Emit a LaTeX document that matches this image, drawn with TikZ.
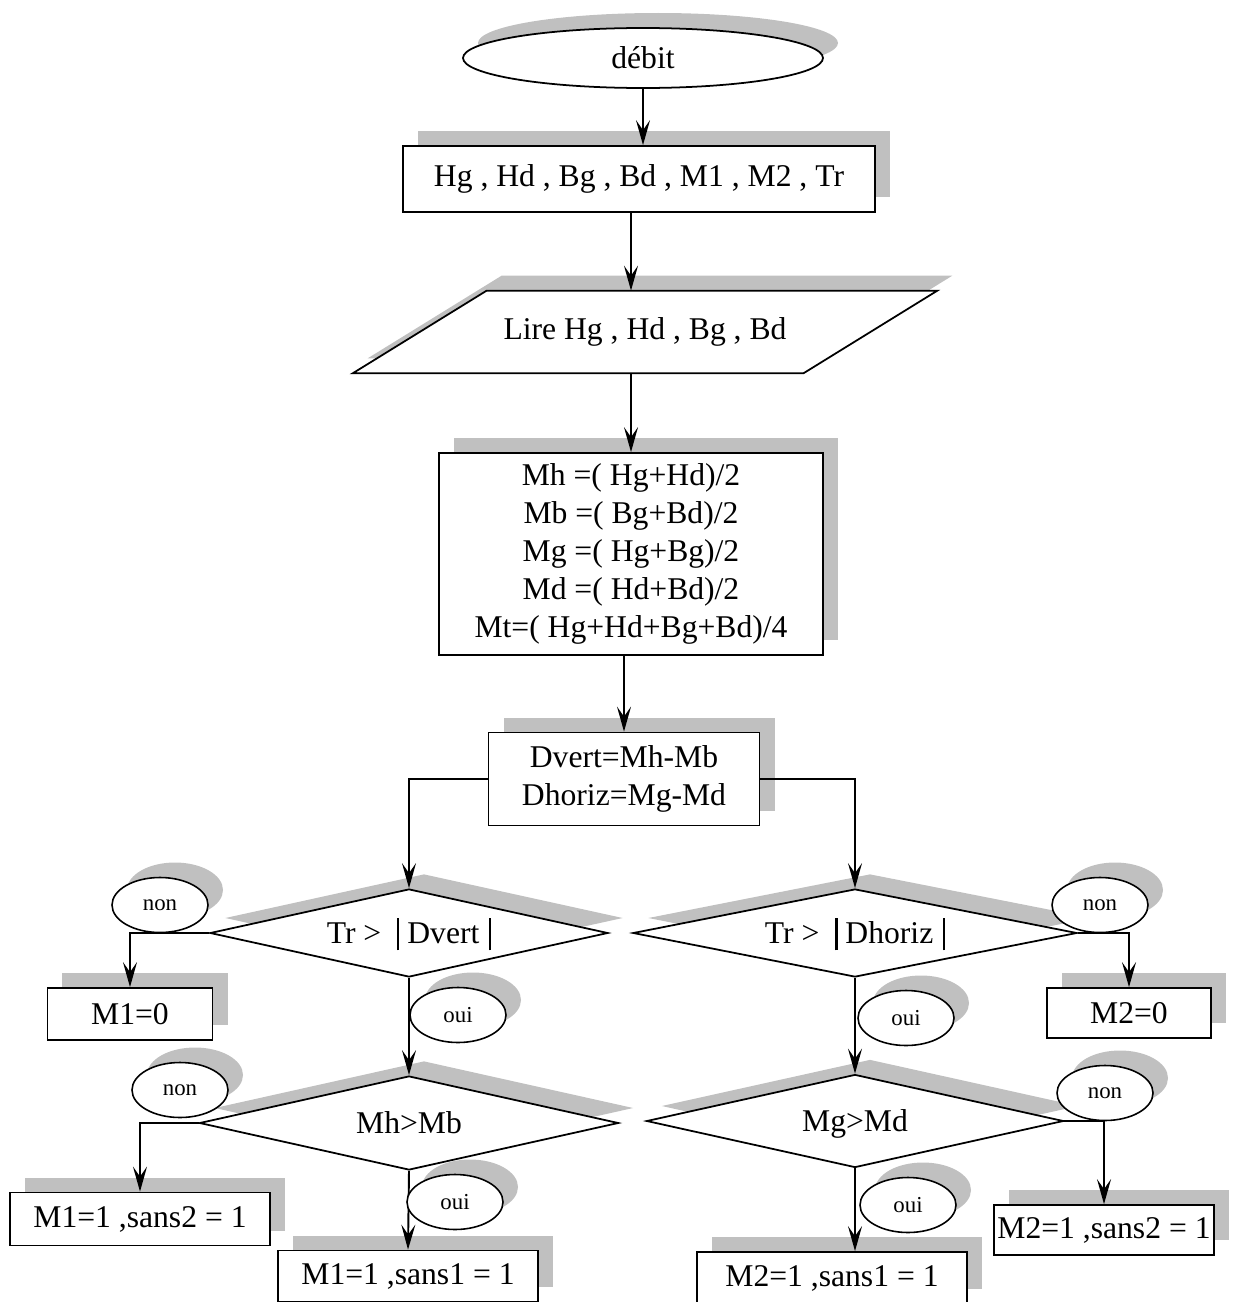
\documentclass[tikz,border=0pt]{standalone}
\usepackage{fontspec}
\setmainfont{Liberation Serif}
\usepackage{tikz}
\usetikzlibrary{arrows.meta,shapes.geometric,shadows,backgrounds}
\definecolor{ink}{HTML}{000000}
\definecolor{shadowgray}{HTML}{C0C0C0}
\newcommand{\bigtxt}{\fontsize{18}{21.6}\selectfont}
\newcommand{\smalltxt}{\fontsize{13}{15}\selectfont}
\newcommand{\vbar}{\rule[-0.22em]{1.3pt}{1.02em}}
\tikzset{
  shd/.style={drop shadow={shadow xshift=3mm,shadow yshift=3mm,fill=shadowgray,opacity=1}},
  box/.style={draw=ink,line width=1pt,fill=white,shd,font=\bigtxt,align=center,inner sep=2pt},
  term/.style={box,ellipse},
  iotext/.style={font=\bigtxt,align=center,inner sep=0pt},
  iobox/.style={draw=ink,line width=1pt,fill=white,shd},
  test/.style={box,diamond,aspect=4.5,inner sep=0pt,text height=11.9pt,text depth=0pt},
  tag/.style={draw=ink,line width=0.9pt,fill=white,ellipse,shd,font=\smalltxt,
    minimum width=19.2mm,minimum height=11mm,inner sep=0pt},
  arr/.style={-{Stealth[length=5mm,width=2.8mm,inset=2mm]},line width=1.1pt,draw=ink},
}
\begin{document}
\begin{tikzpicture}[x=0.2mm,y=-0.2mm]
  \useasboundingbox (0,0) rectangle (1259,1302);
  \node[term,minimum width=72mm,minimum height=12mm] (debut) at (643,58) {débit};
  \node[box,minimum width=94.4mm,minimum height=13.2mm] (init) at (639,179) {Hg , Hd , Bg , Bd , M1 , M2 , Tr};
  \node[iotext,minimum width=90mm,minimum height=16.4mm] (lire) at (645,332) {Lire Hg , Hd , Bg , Bd};
  \begin{scope}[on background layer]
    \draw[iobox] ([xshift=13.4mm]lire.north west) -- ([xshift=13.4mm]lire.north east)
      -- ([xshift=-13.4mm]lire.south east) -- ([xshift=-13.4mm]lire.south west) -- cycle;
  \end{scope}
  \node[box,minimum width=76.8mm,minimum height=40.4mm] (calc) at (631,554) {Mh =( Hg+Hd)/2\\Mb =( Bg+Bd)/2\\Mg =( Hg+Bg)/2\\Md =( Hd+Bd)/2\\Mt=( Hg+Hd+Bg+Bd)/4};
  \node[box,minimum width=54.2mm,minimum height=18.6mm] (diff) at (624,779) {Dvert=Mh-Mb\\Dhoriz=Mg-Md};
  \node[test,minimum width=79.6mm,minimum height=17.6mm] (testv) at (409,933) {Tr >\hspace{0.5em}\vbar\hspace{0.25em}Dvert\hspace{0.3em}\vbar};
  \node[test,minimum width=88.8mm,minimum height=17.6mm] (testh) at (855,933) {Tr >\hspace{0.5em}\vbar\hspace{0.25em}Dhoriz\hspace{0.3em}\vbar};
  \node[box,minimum width=33mm,minimum height=10.4mm] (vnon) at (130,1014) {M1=0};
  \node[box,minimum width=32.8mm,minimum height=10mm] (hnon) at (1129,1013) {M2=0};
  \node[test,minimum width=83.8mm,minimum height=18.8mm] (testmh) at (409,1123) {Mh>Mb};
  \node[test,minimum width=83.4mm,minimum height=18.6mm] (testmg) at (855,1121) {Mg>Md};
  \node[box,minimum width=52mm,minimum height=10.6mm] (mhnon) at (140,1219) {M1=1 ,sans2 = 1};
  \node[box,minimum width=52mm,minimum height=10.2mm] (mhoui) at (408,1276) {M1=1 ,sans1 = 1};
  \node[box,minimum width=43.4mm,minimum height=10mm] (mgnon) at (1104,1230) {M2=1 ,sans2 = 1};
  \node[box,minimum width=54mm,minimum height=10.4mm] (mgoui) at (832,1278) {M2=1 ,sans1 = 1};
  \draw[arr] (debut.south) -- (debut.south |- init.north);
  \draw[arr] (init.south -| calc.north) -- (lire.north -| calc.north);
  \draw[arr] (lire.south -| calc.north) -- (calc.north);
  \draw[arr] (calc.south -| diff.north) -- (diff.north);
  \draw[arr] (diff.west) -| (testv.north);
  \draw[arr] (diff.east) -| (testh.north);
  \draw[arr] (testv.west) -| (vnon.north);
  \draw[arr] (testv.south) -- (testmh.north);
  \draw[arr] (testh.east) -| (hnon.north);
  \draw[arr] (testh.south) -- (testmg.north);
  \draw[arr] (testmh.west) -| (mhnon.north);
  \draw[arr] (testmh.south) -- (mhoui.north);
  \draw[arr] (testmg.east) -| (mgnon.north);
  \draw[arr] (testmg.south) -- (testmg.south |- mgoui.north);
  \foreach \t/\x/\y [count=\i] in {non/160/905,oui/458/1015,non/1100/905,oui/906/1018,
      non/180/1090,oui/455/1202,non/1105/1093,oui/908/1205}
    \node[tag] (tag\i) at (\x,\y) {\t};
\end{tikzpicture}
\end{document}
